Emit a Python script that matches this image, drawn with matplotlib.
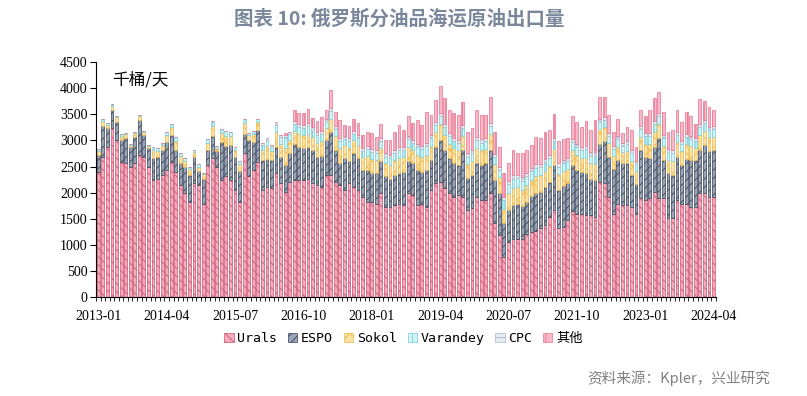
import matplotlib
matplotlib.use("Agg")
import matplotlib.pyplot as plt
from matplotlib.patches import Patch
import numpy as np

plt.rcParams['font.family'] = ['Liberation Serif', 'Noto Sans CJK SC']
plt.rcParams['hatch.linewidth'] = 0.6

# months 2013-01 .. 2024-04
months = [f"{2013 + k // 12}-{k % 12 + 1:02d}" for k in range(136)]
label_months = ["2013-01", "2014-04", "2015-07", "2016-10", "2018-01",
                "2019-04", "2020-07", "2021-10", "2023-01", "2024-04"]

urals = [2400, 2690, 2880, 3230, 3010, 2590, 2560, 2500, 2560, 2720,
         2690, 2500, 2240, 2270, 2340, 2430, 2590, 2400, 2150, 1990,
         1830, 2180, 2150, 1790, 2530, 2660, 2500, 2240, 2310, 2240,
         2050, 1830, 2750, 2310, 2430, 2590, 2050, 2110, 2080, 2370,
         2180, 2020, 2210, 2240, 2240, 2240, 2270, 2180, 2150, 2110,
         2340, 2340, 2210, 2150, 2050, 2180, 2110, 2050, 1920, 1830,
         1830, 1790, 1990, 1730, 1730, 1760, 1790, 1760, 1990, 1950,
         1760, 1790, 1730, 2050, 2180, 2210, 2080, 1990, 1920, 1950,
         1920, 1670, 1700, 1920, 1860, 1860, 1990, 1410, 1190, 770,
         1060, 1120, 1120, 1120, 1210, 1240, 1270, 1320, 1380, 1540,
         1670, 1320, 1350, 1480, 1640, 1600, 1600, 1570, 1570, 1540,
         2210, 2180, 1920, 1600, 1790, 1760, 1760, 1730, 1600, 1890,
         1860, 1890, 2020, 1890, 1890, 1510, 1510, 1860, 1790, 1790,
         1730, 1730, 1990, 1990, 1920, 1920]

espo = [320, 580, 350, 360, 350, 420, 480, 380, 500, 670,
        420, 350, 420, 420, 480, 540, 510, 420, 420, 510,
        510, 510, 260, 480, 290, 420, 290, 730, 580, 670,
        640, 580, 380, 700, 540, 610, 570, 540, 540, 510,
        510, 510, 540, 700, 640, 610, 610, 640, 540, 590,
        670, 830, 610, 420, 610, 420, 640, 610, 510, 610,
        540, 580, 610, 580, 540, 580, 580, 640, 610, 610,
        670, 610, 700, 570, 700, 800, 730, 670, 640, 570,
        890, 610, 640, 640, 670, 700, 830, 830, 800, 640,
        610, 640, 670, 620, 620, 700, 720, 700, 730, 670,
        860, 740, 770, 700, 890, 830, 800, 800, 700, 700,
        730, 800, 770, 860, 830, 800, 800, 610, 570, 930,
        830, 770, 860, 1150, 730, 860, 830, 830, 730, 860,
        890, 890, 830, 930, 870, 890]

sokol = [80, 100, 70, 70, 80, 80, 80, 40, 80, 70,
         50, 40, 160, 110, 90, 130, 160, 170, 130, 110,
         110, 90, 90, 80, 140, 200, 70, 170, 200, 180,
         130, 130, 200, 90, 160, 160, 200, 240, 180, 280,
         250, 330, 250, 250, 240, 250, 250, 240, 270, 280,
         220, 240, 260, 280, 250, 260, 250, 260, 250, 260,
         270, 260, 260, 250, 260, 280, 300, 280, 280, 260,
         300, 290, 300, 280, 280, 300, 290, 280, 290, 290,
         280, 270, 270, 300, 290, 280, 300, 300, 300, 280,
         320, 330, 320, 320, 320, 310, 320, 310, 310, 300,
         300, 290, 290, 280, 290, 290, 270, 300, 290, 310,
         270, 270, 260, 240, 260, 220, 240, 270, 240, 250,
         250, 280, 280, 280, 280, 260, 270, 280, 270, 280,
         270, 240, 290, 270, 270, 260]

varandey = [40, 50, 30, 30, 30, 40, 30, 10, 30, 30,
            30, 20, 60, 50, 40, 60, 60, 70, 60, 50,
            50, 40, 40, 30, 60, 90, 30, 70, 90, 80,
            60, 60, 90, 40, 60, 60, 100, 120, 80, 140,
            120, 180, 120, 130, 130, 130, 150, 130, 140, 140,
            120, 150, 140, 140, 120, 120, 130, 130, 120, 130,
            130, 120, 130, 130, 130, 140, 150, 140, 140, 130,
            150, 140, 160, 140, 140, 150, 150, 140, 140, 140,
            140, 140, 140, 150, 140, 140, 150, 140, 140, 160,
            170, 180, 170, 170, 170, 170, 170, 160, 160, 160,
            150, 150, 150, 140, 150, 150, 140, 160, 150, 160,
            140, 140, 140, 130, 140, 120, 130, 140, 130, 140,
            140, 150, 150, 150, 150, 140, 140, 140, 140, 140,
            140, 130, 150, 140, 140, 140]

cpc = [0] * 36 + [30, 40, 30, 60, 50, 60, 50] + [60] * 93

others = [0] * 41 + [50, 0,
          210, 210, 230, 270, 180, 220, 270,
          180, 350, 270, 350, 210, 230, 230, 230, 240, 280,
          310, 260, 270, 260, 280, 350, 420, 320, 380, 320,
          450, 400, 600, 380, 410, 530, 500, 450, 470, 470,
          450, 420, 420, 510, 470, 450, 510, 430, 390, 460,
          340, 480, 410, 460, 440, 440, 530, 490, 520, 470,
          460, 430, 410, 380, 440, 430, 390, 490, 430, 630,
          420, 390, 340, 270, 340, 180, 270, 390, 270, 320,
          330, 440, 440, 400, 440, 340, 390, 410, 360, 410,
          370, 260, 470, 360, 380, 320]

series = [("Urals", urals), ("ESPO", espo), ("Sokol", sokol),
          ("Varandey", varandey), ("CPC", cpc), ("其他", others)]
styles = {
    "Urals":    dict(facecolor="#F6AEBF", edgecolor="#CC5270", hatch="\\\\\\\\"),
    "ESPO":     dict(facecolor="#9AA5B8", edgecolor="#394456", hatch="////"),
    "Sokol":    dict(facecolor="#FBE2A6", edgecolor="#EDB84C", hatch="xx"),
    "Varandey": dict(facecolor="#D3F3F5", edgecolor="#72D2DA", hatch="||"),
    "CPC":      dict(facecolor="#E6ECF3", edgecolor="#A8B6CA", hatch="--"),
    "其他":     dict(facecolor="#F7B8C8", edgecolor="#E8718F", hatch="||"),
}

fig = plt.figure(figsize=(8.07, 3.96), dpi=100)
ax = fig.add_axes([0.119, 0.25, 0.768, 0.593])

x = np.arange(len(months))
bottom = np.zeros(len(months))
for name, vals in series:
    v = np.array(vals, dtype=float)
    ax.bar(x, v, width=0.62, bottom=bottom, linewidth=0.5, label=name, **styles[name])
    bottom += v

ax.set_xlim(-0.5, len(months) - 0.5)
ax.set_ylim(0, 4500)
ax.set_yticks(np.arange(0, 4501, 500))
ax.tick_params(axis='y', direction='out', length=4, width=0.8, labelsize=10, pad=2)

pos = [months.index(m) for m in label_months]
ax.set_xticks(pos)
ax.set_xticklabels(label_months)
ax.tick_params(axis='x', which='major', length=0, labelsize=10, pad=9)
ax.set_xticks(np.arange(-0.5, len(months), 1), minor=True)
ax.tick_params(axis='x', which='minor', direction='out', length=3, width=0.6)

for s in ['top', 'right']:
    ax.spines[s].set_visible(False)
ax.spines['left'].set_linewidth(0.8)
ax.spines['bottom'].set_linewidth(0.8)

ax.text(0.026, 0.925, "千桶/天", transform=ax.transAxes, fontsize=12,
        va='center', ha='left', family=['Noto Sans CJK SC'])

fig.text(0.495, 0.953, "图表 10: 俄罗斯分油品海运原油出口量", ha='center', va='center',
         fontsize=14, fontweight='bold', color='#7B879B', family=['Noto Sans CJK SC'])

handles = [Patch(label=name, linewidth=0.5, **styles[name]) for name, _ in series]
fig.legend(handles=handles, loc='center', bbox_to_anchor=(0.5, 0.145), ncol=6,
           frameon=False, handlelength=0.7, handleheight=0.7, handletextpad=0.3,
           columnspacing=0.8, prop={'family': ['DejaVu Sans Mono', 'Noto Sans CJK SC'], 'size': 9.5})

fig.text(0.954, 0.045, "资料来源：Kpler，兴业研究", ha='right', va='center',
         fontsize=10.5, color='#808080', family=['Noto Sans CJK SC'])

fig.savefig("out.png", dpi=100)
